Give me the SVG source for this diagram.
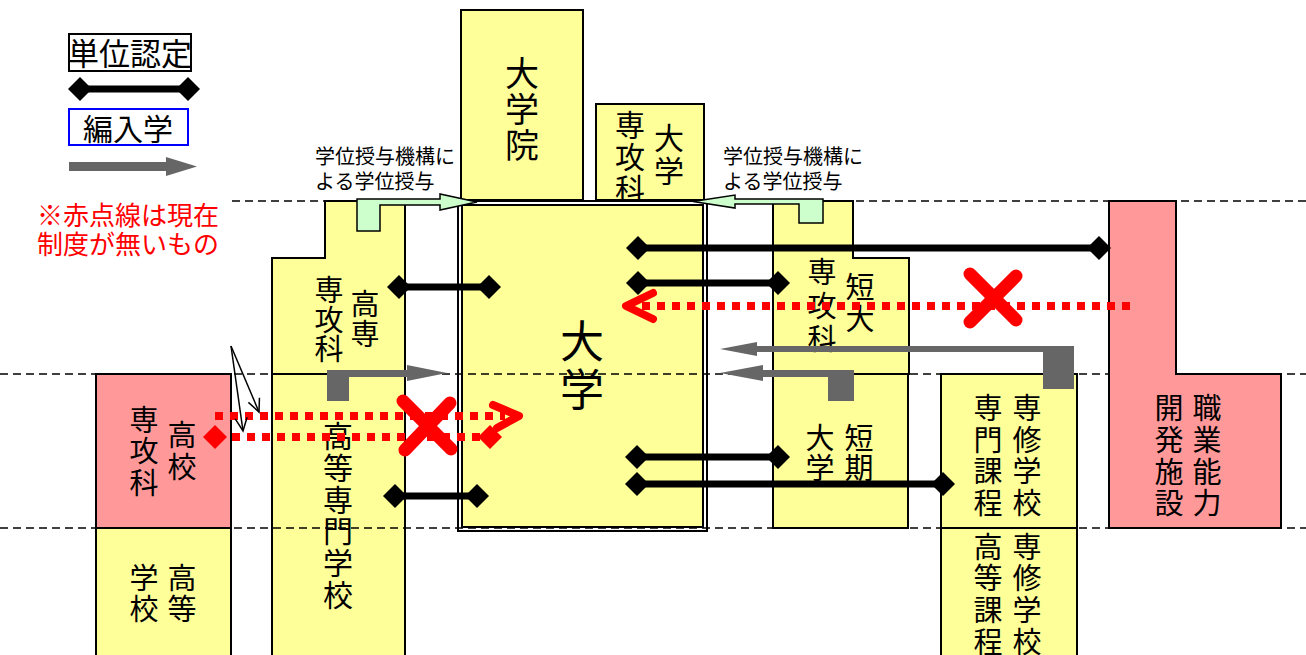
<svg xmlns="http://www.w3.org/2000/svg" width="1306" height="655" viewBox="0 0 1306 655">
<style>
.y{fill:#FFFF99;stroke:#000;stroke-width:2}
.p{fill:#FF9999;stroke:#000;stroke-width:2}
.t{font-family:"Noto Sans CJK JP","Noto Sans CJK SC",sans-serif;fill:#000;text-anchor:middle}
.s{font-family:"Noto Sans CJK JP","Noto Sans CJK SC",sans-serif;fill:#000}
.dash{stroke:#000;stroke-width:1.5;stroke-dasharray:8 5;fill:none}
.blk{stroke:#000;stroke-width:7;fill:none;marker-start:url(#dia);marker-end:url(#dia)}
.gray{fill:#666666}
.green{fill:#CCFFCC;stroke:#000;stroke-width:1.5}
.rd{stroke:#FF0000;stroke-width:8;stroke-dasharray:8 7;fill:none}
.rc{stroke:#FF0000;stroke-width:8;fill:none;stroke-linecap:round;stroke-linejoin:round}
.rx{stroke:#FF0000;stroke-width:13;stroke-linecap:round}
.thin{stroke:#000;stroke-width:1.5;fill:none;marker-end:url(#open)}
</style>
<defs>
<marker id="dia" markerUnits="userSpaceOnUse" markerWidth="26" markerHeight="26" refX="13" refY="13" orient="auto">
<path d="M1,13 L13,1 L25,13 L13,25 Z" fill="#000"/>
</marker>
<marker id="open" markerUnits="userSpaceOnUse" markerWidth="16" markerHeight="16" refX="14" refY="8" orient="auto">
<path d="M1,2 L14,8 L1,14" fill="none" stroke="#000" stroke-width="1.5"/>
</marker>
</defs>
<rect width="1306" height="655" fill="#fff"/>

<g id="legend">
<rect x="69" y="34" width="122" height="37" fill="#fff" stroke="#000" stroke-width="2"/>
<text class="t" x="130" y="65" font-size="31">単位認定</text>
<line class="blk" x1="80" y1="89" x2="188" y2="89"/>
<rect x="69" y="109" width="119" height="36" fill="#fff" stroke="#0000FF" stroke-width="2"/>
<text class="t" x="128" y="140" font-size="30">編入学</text>
<path class="gray" d="M69,162 H166 V157 L197,166.5 L166,176 V171 H69 Z"/>
<text class="s" x="37" y="225" font-size="26" fill="#FF0000" style="fill:#FF0000">※赤点線は現在</text>
<text class="s" x="37" y="254" font-size="26" style="fill:#FF0000">制度が無いもの</text>
</g>

<g id="label-left">
<text class="s" x="315" y="164" font-size="20">学位授与機構に</text>
<text class="s" x="315" y="189" font-size="20">よる学位授与</text>
</g>
<g id="label-right">
<text class="s" x="723" y="164" font-size="20">学位授与機構に</text>
<text class="s" x="723" y="189" font-size="20">よる学位授与</text>
</g>

<g id="daigakuin">
<rect class="y" x="461" y="10" width="122" height="190"/>
<text class="t" font-size="34"><tspan x="522" y="86">大</tspan><tspan x="522" y="122">学</tspan><tspan x="522" y="158">院</tspan></text>
</g>

<g id="daigaku-senkouka">
<rect class="y" x="596" y="104" width="108" height="96"/>
<text class="t" font-size="30"><tspan x="630" y="136">専</tspan><tspan x="630" y="168">攻</tspan><tspan x="630" y="200">科</tspan></text>
<text class="t" font-size="30"><tspan x="669" y="149">大</tspan><tspan x="669" y="182">学</tspan></text>
</g>

<g id="daigaku">
<rect x="458" y="201" width="249" height="330" fill="#fff" stroke="#000" stroke-width="2"/>
<rect class="y" x="462" y="205" width="241" height="322"/>
<text class="t" font-size="44"><tspan x="582" y="358">大</tspan><tspan x="582" y="406">学</tspan></text>
</g>

<g id="kosen-senkouka">
<path class="y" d="M325,201 H405 V374 H272 V258 H325 Z"/>
<text class="t" font-size="29"><tspan x="329" y="301">専</tspan><tspan x="329" y="331">攻</tspan><tspan x="329" y="360">科</tspan></text>
<text class="t" font-size="29"><tspan x="365" y="315">高</tspan><tspan x="365" y="345">専</tspan></text>
</g>

<g id="kosen">
<rect class="y" x="272" y="374" width="133" height="290"/>
<text class="t" font-size="30"><tspan x="338" y="447">高</tspan><tspan x="338" y="479">等</tspan><tspan x="338" y="511">専</tspan><tspan x="338" y="542">門</tspan><tspan x="338" y="574">学</tspan><tspan x="338" y="606">校</tspan></text>
</g>

<g id="koukou-senkouka">
<rect class="p" x="96" y="374" width="135" height="154"/>
<text class="t" font-size="29"><tspan x="144" y="431">専</tspan><tspan x="144" y="462">攻</tspan><tspan x="144" y="494">科</tspan></text>
<text class="t" font-size="29"><tspan x="182" y="446">高</tspan><tspan x="182" y="478">校</tspan></text>
</g>

<g id="koutou-gakkou">
<rect class="y" x="96" y="528" width="135" height="140"/>
<text class="t" font-size="29"><tspan x="144" y="589">学</tspan><tspan x="144" y="620">校</tspan></text>
<text class="t" font-size="29"><tspan x="182" y="589">高</tspan><tspan x="182" y="620">等</tspan></text>
</g>

<g id="tandai-senkouka">
<path class="y" d="M773,201 H853 V258 H909 V374 H773 Z"/>
<text class="t" font-size="29"><tspan x="822" y="283">専</tspan><tspan x="822" y="317">攻</tspan><tspan x="822" y="350">科</tspan></text>
<text class="t" font-size="29"><tspan x="860" y="298">短</tspan><tspan x="860" y="330">大</tspan></text>
</g>

<g id="tanki-daigaku">
<rect class="y" x="773" y="374" width="135" height="154"/>
<text class="t" font-size="29"><tspan x="820" y="449">大</tspan><tspan x="820" y="479">学</tspan></text>
<text class="t" font-size="29"><tspan x="859" y="449">短</tspan><tspan x="859" y="479">期</tspan></text>
</g>

<g id="senshu-senmon">
<rect class="y" x="941" y="374" width="136" height="154"/>
<text class="t" font-size="29"><tspan x="988" y="419">専</tspan><tspan x="988" y="451">門</tspan><tspan x="988" y="482">課</tspan><tspan x="988" y="514">程</tspan></text>
<text class="t" font-size="29"><tspan x="1027" y="419">専</tspan><tspan x="1027" y="451">修</tspan><tspan x="1027" y="482">学</tspan><tspan x="1027" y="514">校</tspan></text>
</g>

<g id="senshu-koutou">
<rect class="y" x="941" y="528" width="136" height="140"/>
<text class="t" font-size="29"><tspan x="988" y="558">高</tspan><tspan x="988" y="589">等</tspan><tspan x="988" y="621">課</tspan><tspan x="988" y="653">程</tspan></text>
<text class="t" font-size="29"><tspan x="1027" y="558">専</tspan><tspan x="1027" y="589">修</tspan><tspan x="1027" y="621">学</tspan><tspan x="1027" y="653">校</tspan></text>
</g>

<g id="guides">
<line class="dash" x1="232" y1="201" x2="1306" y2="201"/>
<line class="dash" x1="0" y1="374" x2="1306" y2="374"/>
<line class="dash" x1="0" y1="528" x2="1306" y2="528"/>
</g>

<g id="shokugyou">
<path class="p" d="M1109,201 H1176 V374 H1281 V528 H1109 Z"/>
<text class="t" font-size="29"><tspan x="1169" y="419">開</tspan><tspan x="1169" y="451">発</tspan><tspan x="1169" y="483">施</tspan><tspan x="1169" y="514">設</tspan></text>
<text class="t" font-size="29"><tspan x="1207" y="419">職</tspan><tspan x="1207" y="451">業</tspan><tspan x="1207" y="483">能</tspan><tspan x="1207" y="514">力</tspan></text>
</g>

<g id="connectors">
<path class="green" d="M357,231 V199 H440 V194 L477,202 L440,210 V205 H380 V231 Z"/>
<path class="green" d="M823,223 V199 H735 V195 L693,201.5 L735,208 V204 H799 V223 Z"/>
<line class="blk" x1="638" y1="248" x2="1099" y2="248"/>
<line class="blk" x1="638" y1="283" x2="778" y2="283"/>
<line class="blk" x1="399" y1="287" x2="489" y2="287"/>
<line class="blk" x1="637" y1="457" x2="778" y2="457"/>
<line class="blk" x1="637" y1="484" x2="943" y2="484"/>
<line class="blk" x1="395" y1="496" x2="477" y2="496"/>
<path class="gray" d="M327,401 V370 H407 V365 L447,373 L407,381 V377 H349 V401 Z"/>
<path class="gray" d="M1074,346 V389 H1043 V352 H757 V356 L720,349 L757,342 V346 Z"/>
<path class="gray" d="M854,370 V401 H828 V377 H763 V381 L720,373 L763,365 V370 Z"/>
<line class="rd" x1="1130" y1="306" x2="638" y2="306"/>
<polyline class="rc" points="653,293 626,306 653,319"/>
<line class="rx" x1="970" y1="274" x2="1016" y2="320"/>
<line class="rx" x1="1016" y1="276" x2="970" y2="322"/>
<line class="rd" x1="215" y1="416" x2="505" y2="416"/>
<polyline class="rc" points="493,405 519,416 497,428"/>
<line class="rd" x1="232" y1="437" x2="480" y2="437"/>
<path d="M203,437 L215,425 L227,437 L215,449 Z" fill="#FF0000"/>
<path d="M478,437 L490,425 L502,437 L490,449 Z" fill="#FF0000"/>
<line class="rx" x1="403" y1="401" x2="451" y2="449"/>
<line class="rx" x1="450" y1="403" x2="405" y2="450"/>
<line class="thin" x1="231" y1="346" x2="259" y2="412"/>
<line class="thin" x1="231" y1="346" x2="243" y2="431"/>
</g>
</svg>
